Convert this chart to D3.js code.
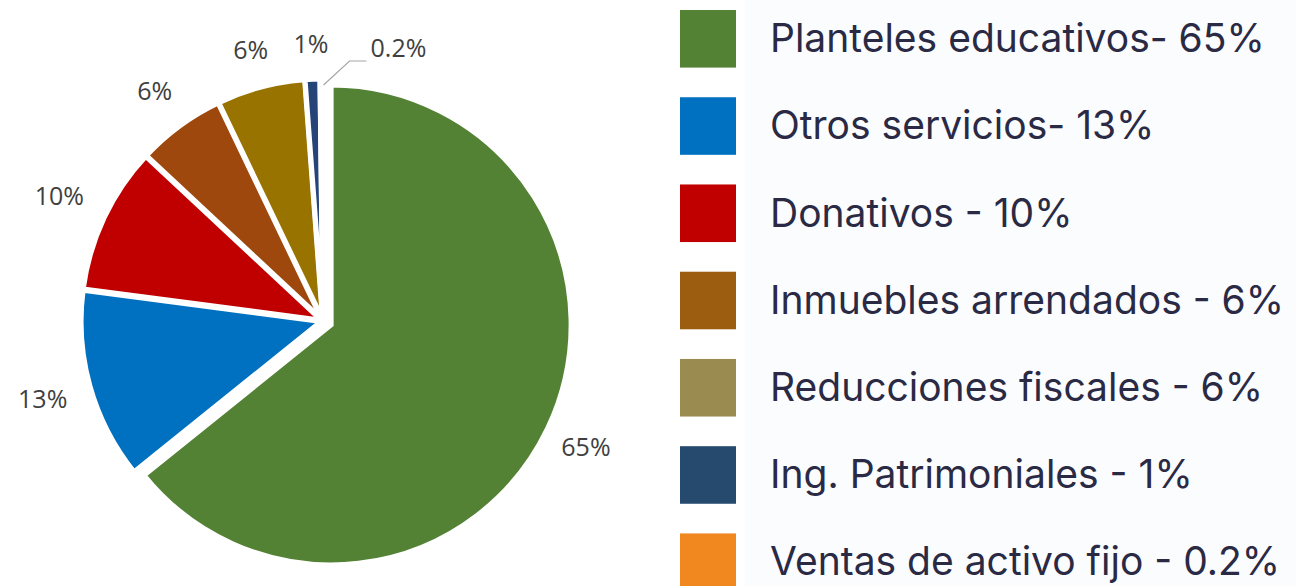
<!DOCTYPE html>
<html>
<head>
<meta charset="utf-8">
<script src="https://cdn.jsdelivr.net/npm/d3@7"></script>
<style>
  body { margin: 0; background: #fff; }
  svg { display: block; }
</style>
</head>
<body>
<div id="chart"></div>
<script>
// data
const categories = ["Planteles educativos- 65%", "Otros servicios- 13%", "Donativos - 10%",
  "Inmuebles arrendados - 6%", "Reducciones fiscales - 6%", "Ing. Patrimoniales - 1%",
  "Ventas de activo fijo - 0.2%"];
const values = [65, 13, 10, 6, 6, 1, 0.2];
const sliceLabels = ["65%", "13%", "10%", "6%", "6%", "1%", "0.2%"];
const pieColors = ["#548235", "#0070c0", "#c00000", "#9e480e", "#997300", "#264478", "#ed7d31"];
const legendColors = ["#548235", "#0070c0", "#c00000", "#9c5d10", "#9a8b50", "#264a6e", "#f0871f"];

const W = 1296, H = 586;
const svg = d3.select("#chart").append("svg")
    .attr("width", W)
    .attr("height", H);

// faint panel behind the legend
svg.append("rect")
    .attr("x", 745).attr("y", 0)
    .attr("width", W - 745).attr("height", H)
    .attr("fill", "#fbfcfe");

// pie
const cx = 323, cy = 321, R = 240;
const pie = d3.pie().sort(null).value(d => d);
const arcs = pie(values);
const arc = d3.arc().innerRadius(0).outerRadius(R);

const g = svg.append("g").attr("transform", `translate(${cx},${cy})`);

function offset(d, i) {
  const a = (d.startAngle + d.endAngle) / 2;
  const k = i === 0 ? 9 : 2;
  return [Math.sin(a) * k, -Math.cos(a) * k];
}

g.selectAll("path.slice")
  .data(arcs)
  .join("path")
    .attr("class", "slice")
    .attr("d", arc)
    .attr("fill", (d, i) => pieColors[i])
    .attr("stroke", "#fff")
    .attr("stroke-width", 5)
    .attr("stroke-linejoin", "miter")
    .attr("transform", (d, i) => `translate(${offset(d, i)})`);

// labels outside the slices
const labelFont = 25;
const pad = 24;
const lab = g.append("g")
    .attr("font-family", "'Open Sans', 'Liberation Sans', sans-serif")
    .attr("font-size", labelFont)
    .attr("fill", "#404040");

arcs.forEach((d, i) => {
  const a = (d.startAngle + d.endAngle) / 2;
  const s = Math.sin(a), c = -Math.cos(a);
  if (i === arcs.length - 1) {
    // tiny slice gets a leader line
    const x0 = s * (R - 2) + 2, y0 = c * (R - 2) + 2;
    const x1 = x0 + 26, y1 = y0 - 24;
    const x2 = x1 + 17;
    lab.append("path")
        .attr("d", `M${x0},${y0}L${x1},${y1}L${x2},${y1}`)
        .attr("fill", "none")
        .attr("stroke", "#a6a6a6")
        .attr("stroke-width", 1.2);
    lab.append("text")
        .attr("x", x2 + 4)
        .attr("y", y1 - 4)
        .text(sliceLabels[i]);
    return;
  }
  const t = lab.append("text")
      .attr("text-anchor", "middle")
      .attr("dy", "0.35em")
      .text(sliceLabels[i]);
  const bw = t.node().getComputedTextLength() / 2, bh = labelFont / 2;
  const rl = R + pad + bw * Math.abs(s) + bh * Math.abs(c);
  t.attr("x", s * rl).attr("y", c * rl);
});

// legend
const y = d3.scaleBand()
    .domain(categories)
    .range([10, 591])
    .paddingInner(0.34)
    .paddingOuter(0);

const legend = svg.append("g");
const rows = legend.selectAll("g")
  .data(categories)
  .join("g")
    .attr("transform", d => `translate(680,${y(d)})`);

rows.append("rect")
    .attr("width", 56)
    .attr("height", y.bandwidth())
    .attr("fill", (d, i) => legendColors[i]);

rows.append("text")
    .attr("x", 90)
    .attr("y", y.bandwidth() / 2)
    .attr("dy", "0.34em")
    .attr("font-family", "Inter, 'Noto Sans', sans-serif")
    .attr("font-size", 39)
    .attr("fill", "#2a2a45")
    .text(d => d);
</script>
</body>
</html>
